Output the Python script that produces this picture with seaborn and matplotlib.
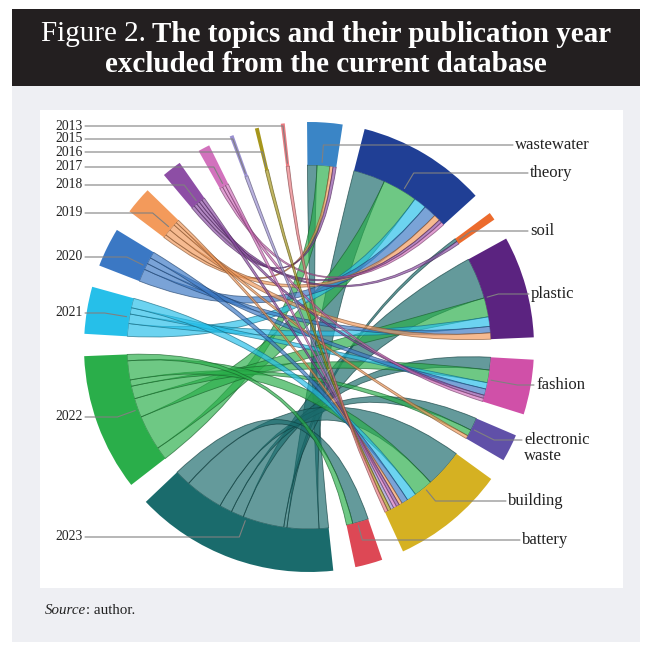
import numpy as np
import pandas as pd
import seaborn as sns
import matplotlib
matplotlib.use("Agg")
import matplotlib.pyplot as plt
from matplotlib.path import Path
from matplotlib.patches import PathPatch, Rectangle, Wedge

# ---------------- data ----------------
years = ["2013", "2015", "2016", "2017", "2018", "2019", "2020", "2021", "2022", "2023"]
topics = ["wastewater", "theory", "soil", "plastic", "fashion", "electronic\nwaste", "building", "battery"]
# counts per year, in topic order above
y2013 = [0, 0, 0, 0, 0, 0, 1, 0]
y2015 = [0, 0, 0, 0, 0, 0, 1, 0]
y2016 = [0, 0, 0, 0, 0, 0, 1, 0]
y2017 = [0, 1, 0, 0, 1, 0, 1, 0]
y2018 = [1, 1, 1, 0, 1, 0, 1, 0]
y2019 = [1, 2, 0, 2, 0, 1, 1, 0]
y2020 = [0, 4, 0, 2, 2, 0, 2, 0]
y2021 = [0, 4, 0, 3, 2, 0, 3, 0]
y2022 = [4, 11, 0, 6, 4, 2, 6, 2]
y2023 = [3, 10, 1, 13, 4, 4, 12, 5]

year_colors = ["#ea7a80", "#9a90d0", "#a6961c", "#d272bd", "#8d4ea5",
               "#f39a5b", "#3b78c4", "#26bfe9", "#2aae4a", "#1a6b6c"]
topic_colors = ["#3a85c6", "#203f95", "#ec6b2d", "#5b2380", "#d050a8",
                "#6050a8", "#d5b122", "#dd4855"]

# clockwise placement of the year sectors (after the topics)
year_ring = ["2023", "2022", "2021", "2020", "2019", "2018", "2017", "2015", "2016", "2013"]

df = pd.DataFrame([y2013, y2015, y2016, y2017, y2018, y2019, y2020, y2021, y2022, y2023],
                  index=years, columns=topics)

# ---------------- style ----------------
sns.set_theme(style="white")
plt.rcParams["font.family"] = ["Liberation Serif", "DejaVu Serif"]
ycol = dict(zip(years, sns.color_palette(year_colors)))
tcol = dict(zip(topics, sns.color_palette(topic_colors)))

W, H = 652, 646
fig = plt.figure(figsize=(W / 100, H / 100), dpi=100)
ax = fig.add_axes([0, 0, 1, 1])
ax.set_xlim(0, W)
ax.set_ylim(0, H)
ax.axis("off")


def Y(y):
    return H - y


# panels
ax.add_patch(Rectangle((12, Y(642)), 628, 642 - 86, fc="#eeeff3", ec="none", zorder=0))
ax.add_patch(Rectangle((12, Y(86)), 628, 86 - 9, fc="#231f20", ec="none", zorder=0))
ax.add_patch(Rectangle((40, Y(588)), 583, 588 - 110, fc="white", ec="none", zorder=0))

# ---------------- chord layout ----------------
cx, cy = 309.0, Y(347)
R_OUT, R_IN = 225.0, 182.0
GAP = 5.7
START = 90.5

order = topics + year_ring
sizes = {t: df[t].sum() for t in topics}
sizes.update({y: df.loc[y].sum() for y in years})
total = sum(sizes.values())
unit = (360 - GAP * len(order)) / total

span = {}
cur = START
for s in order:
    a1 = cur
    a2 = cur - sizes[s] * unit
    span[s] = (a1, a2)
    cur = a2 - GAP

# link slots: inside each sector, partners ordered by their global position
pos = {s: i for i, s in enumerate(order)}
slots = {}
for s in order:
    a = span[s][0]
    if s in topics:
        partners = sorted(years, key=lambda p: pos[p])
        vals = {p: df.loc[p, s] for p in partners}
    else:
        partners = sorted(topics, key=lambda p: pos[p])
        vals = {p: df.loc[s, p] for p in partners}
    for p in partners:
        v = vals[p]
        if v > 0:
            slots[(s, p)] = (a, a - v * unit)
            a -= v * unit


def arc_pts(a1, a2, r, n=40):
    t = np.radians(np.linspace(a1, a2, n))
    return np.column_stack([cx + r * np.cos(t), cy + r * np.sin(t)])


def ribbon(a1, a2, b1, b2, color):
    A = arc_pts(a1, a2, R_IN)
    B = arc_pts(b1, b2, R_IN)
    verts = list(map(tuple, A))
    codes = [Path.MOVETO] + [Path.LINETO] * (len(A) - 1)
    verts += [(cx, cy), tuple(B[0])]
    codes += [Path.CURVE3, Path.CURVE3]
    verts += list(map(tuple, B[1:]))
    codes += [Path.LINETO] * (len(B) - 1)
    verts += [(cx, cy), tuple(A[0])]
    codes += [Path.CURVE3, Path.CURVE3]
    verts += [tuple(A[0])]
    codes += [Path.CLOSEPOLY]
    edge = tuple(np.array(color) * 0.55)
    ax.add_patch(PathPatch(Path(verts, codes), fc=color, alpha=0.68,
                           ec=edge, lw=0.6, zorder=2))


for y in year_ring:
    for t in topics:
        if df.loc[y, t] > 0:
            a1, a2 = slots[(y, t)]
            b1, b2 = slots[(t, y)]
            ribbon(a1, a2, b1, b2, ycol[y])

# sectors
for s in order:
    a1, a2 = span[s]
    c = ycol[s] if s in ycol else tcol[s]
    ax.add_patch(Wedge((cx, cy), R_OUT, a2, a1, width=R_OUT - R_IN,
                       fc=c, ec="none", zorder=3))

# ---------------- labels with leader lines ----------------
label_y = {"2013": 126, "2015": 139, "2016": 152, "2017": 167, "2018": 185,
           "2019": 213, "2020": 257, "2021": 313, "2022": 417, "2023": 537,
           "wastewater": 145, "theory": 173, "soil": 231, "plastic": 294,
           "fashion": 385, "electronic\nwaste": 440, "building": 501, "battery": 540}
label_x = {"wastewater": 515, "theory": 530, "soil": 530, "plastic": 531,
           "fashion": 536, "electronic\nwaste": 524, "building": 508, "battery": 522}
LC = "#808080"
for s in order:
    a1, a2 = span[s]
    m = np.radians((a1 + a2) / 2)
    yl = Y(label_y[s])
    sm = np.sin(m)
    r_e = (yl - cy) / sm if abs(sm) > 1e-6 else 200
    r_e = float(np.clip(r_e, 188, 224))
    ex, ey = cx + r_e * np.cos(m), cy + r_e * np.sin(m)
    px, py = cx + 185 * np.cos(m), cy + 185 * np.sin(m)
    if s in years:
        x0 = 85
        ax.text(83, yl, s, ha="right", va="center", fontsize=9.8, color="#222222", zorder=5)
    else:
        x0 = label_x[s] - 2
        ty = yl - 8 if "\n" in s else yl
        ax.text(label_x[s], ty, s, ha="left", va="center", fontsize=12,
                color="#222222", linespacing=1.0, zorder=5)
    ax.plot([x0, ex, px], [yl, yl if abs(ey - yl) < 1 else ey, py], color=LC, lw=0.8, zorder=4)

# ---------------- title & source ----------------
fig.canvas.draw()
rend = fig.canvas.get_renderer()
t1 = ax.text(0, Y(34), "Figure 2.", color="white", fontsize=21, va="center", ha="left")
t2 = ax.text(0, Y(34), "The topics and their publication year", color="white",
             fontsize=21, fontweight="bold", va="center", ha="left")
w1 = t1.get_window_extent(rend).width
w2 = t2.get_window_extent(rend).width
sp = 6
x_start = W / 2 - (w1 + sp + w2) / 2
t1.set_x(x_start)
t2.set_x(x_start + w1 + sp)
ax.text(W / 2, Y(65), "excluded from the current database", color="white",
        fontsize=21, fontweight="bold", va="center", ha="center")

s1 = ax.text(45, Y(610), "Source", fontstyle="italic", fontsize=10.8, va="center", ha="left",
             color="#222222")
ws = s1.get_window_extent(rend).width
ax.text(45 + ws, Y(610), ": author.", fontsize=10.8, va="center", ha="left", color="#222222")

fig.savefig("out.png", dpi=100)
